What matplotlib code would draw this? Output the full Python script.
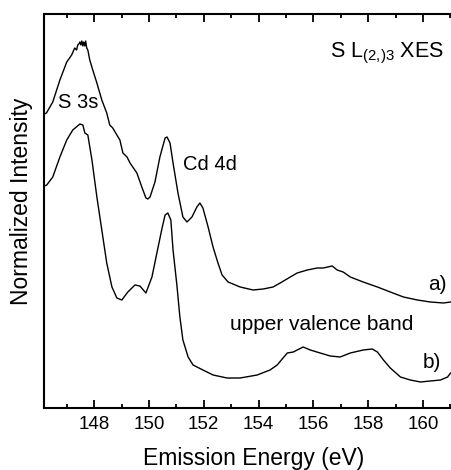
import matplotlib
matplotlib.use("Agg")
import matplotlib.pyplot as plt
from matplotlib.ticker import MultipleLocator, NullLocator

plt.rcParams["font.family"] = ["Liberation Sans", "DejaVu Sans"]
plt.rcParams["mathtext.fontset"] = "custom"
plt.rcParams["mathtext.rm"] = "Liberation Sans"

# Spectrum a)
energy_a = [146.18, 146.26, 146.49, 146.75, 147.00, 147.18, 147.29, 147.36, 147.40,
            147.44, 147.48, 147.52, 147.55, 147.59, 147.62, 147.66, 147.69, 147.73,
            147.77, 147.84, 147.95, 148.10, 148.28, 148.46, 148.57, 148.68, 148.83,
            148.94, 149.05, 149.20, 149.31, 149.56, 149.74, 149.89, 149.96, 150.04,
            150.22, 150.40, 150.59, 150.66, 150.77, 150.88, 151.06, 151.24, 151.39,
            151.57, 151.75, 151.86, 151.97, 152.16, 152.34, 152.52, 152.67, 152.89,
            153.33, 153.80, 154.17, 154.53, 154.79, 155.16, 155.41, 155.78, 156.14,
            156.36, 156.69, 156.87, 157.09, 157.35, 157.82, 158.34, 158.81, 159.29,
            159.80, 160.27, 160.75, 161.01]
intensity_a = [2.94, 2.95, 3.06, 3.28, 3.46, 3.53, 3.60, 3.58, 3.63,
               3.64, 3.66, 3.63, 3.67, 3.62, 3.66, 3.62, 3.67, 3.60,
               3.58, 3.48, 3.38, 3.25, 3.08, 2.95, 2.83, 2.80, 2.73,
               2.68, 2.55, 2.51, 2.45, 2.35, 2.21, 2.10, 2.09, 2.11,
               2.26, 2.51, 2.70, 2.71, 2.65, 2.45, 2.15, 1.91, 1.86,
               1.91, 2.01, 2.05, 2.00, 1.81, 1.61, 1.45, 1.33, 1.26,
               1.21, 1.18, 1.19, 1.21, 1.25, 1.31, 1.35, 1.38, 1.40,
               1.40, 1.42, 1.38, 1.36, 1.31, 1.26, 1.21, 1.16, 1.11,
               1.08, 1.06, 1.05, 1.06]

# Spectrum b)
energy_b = [146.18, 146.27, 146.49, 146.75, 147.00, 147.22, 147.48, 147.59, 147.66,
            147.77, 147.92, 148.10, 148.28, 148.46, 148.65, 148.83, 149.01, 149.23,
            149.49, 149.67, 149.89, 150.11, 150.29, 150.48, 150.59, 150.69, 150.80,
            150.88, 151.02, 151.13, 151.24, 151.43, 151.61, 151.97, 152.34, 152.85,
            153.33, 153.95, 154.42, 154.68, 155.05, 155.27, 155.41, 155.63, 155.89,
            156.25, 156.62, 156.98, 157.35, 157.82, 158.15, 158.34, 158.56, 158.81,
            159.18, 159.54, 159.91, 160.27, 160.64, 160.90, 161.01]
intensity_b = [2.22, 2.23, 2.31, 2.51, 2.68, 2.78, 2.84, 2.83, 2.75,
               2.73, 2.48, 2.11, 1.78, 1.45, 1.21, 1.10, 1.08, 1.16,
               1.23, 1.22, 1.15, 1.31, 1.55, 1.80, 1.93, 1.95, 1.88,
               1.58, 1.23, 0.91, 0.68, 0.51, 0.43, 0.38, 0.33, 0.30,
               0.30, 0.33, 0.38, 0.43, 0.55, 0.56, 0.58, 0.61, 0.58,
               0.55, 0.52, 0.51, 0.55, 0.58, 0.59, 0.56, 0.48, 0.40,
               0.31, 0.28, 0.26, 0.27, 0.28, 0.31, 0.35]

fig = plt.figure(figsize=(4.51, 4.70), dpi=100)
ax = fig.add_axes([44 / 451, 62 / 470, 420 / 451, 394 / 470])

ax.plot(energy_a, intensity_a, color="black", lw=1.0)
ax.plot(energy_b, intensity_b, color="black", lw=1.0)

ax.set_xlim(146.17, 161.5)
ax.set_ylim(0, 3.94)

ax.xaxis.set_major_locator(MultipleLocator(2))
ax.xaxis.set_minor_locator(MultipleLocator(1))
ax.yaxis.set_major_locator(NullLocator())
ax.tick_params(axis="x", which="both", direction="in", top=True, bottom=True,
               width=1.3, labelsize=13.5, pad=6)
ax.tick_params(axis="x", which="major", length=6)
ax.tick_params(axis="x", which="minor", length=3)
for side in ("left", "bottom", "top", "right"):
    ax.spines[side].set_linewidth(1.5)

ax.set_xlabel("Emission Energy (eV)", fontsize=16.5, labelpad=10)
ax.set_ylabel("Normalized Intensity", fontsize=16.5)
ax.yaxis.set_label_coords(-0.026, 0.525)

ax.text(146.67, 3.05, "S 3s", fontsize=14.5, ha="left", va="center")
ax.text(151.24, 2.43, "Cd 4d", fontsize=14.5, ha="left", va="center")
ax.text(156.62, 3.51, r"S L$_{\mathregular{(2{,})3}}$ XES", fontsize=15.5,
        ha="left", va="baseline")
ax.text(160.18, 1.24, "a)", fontsize=15, ha="left", va="center")
ax.text(152.96, 0.78, "upper valence band", fontsize=15, ha="left", va="baseline")
ax.text(160.01, 0.46, "b)", fontsize=15, ha="left", va="center")

fig.savefig("out.png", dpi=100)
